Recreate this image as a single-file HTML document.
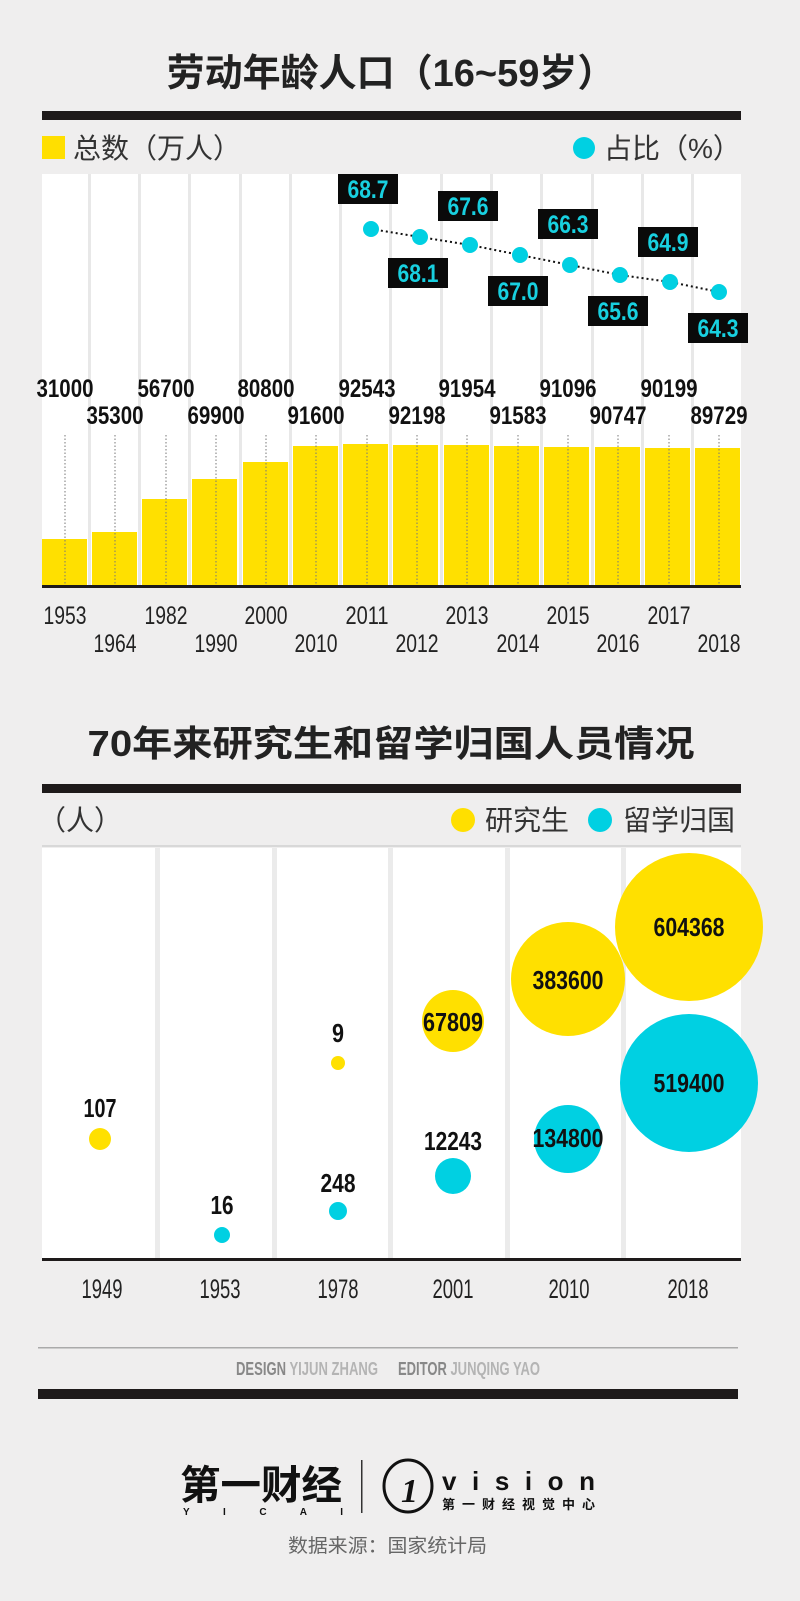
<!DOCTYPE html>
<html><head><meta charset="utf-8"><style>
html,body{margin:0;padding:0;background:#efeeee;}
svg{display:block}
.cn{font-family:"Liberation Sans","Noto Sans CJK SC",sans-serif}
.n{font-family:"Liberation Sans",sans-serif;font-weight:bold;fill:#111}
.y{font-family:"Liberation Sans",sans-serif;fill:#222}
</style></head><body>
<svg width="800" height="1601" viewBox="0 0 800 1601" xmlns="http://www.w3.org/2000/svg">
<rect width="800" height="1601" fill="#efeeee"/>
<!-- Section 1 -->
<text x="391" y="86" class="cn" font-size="38" font-weight="bold" fill="#222" text-anchor="middle">劳动年龄人口（16~59岁）</text>
<rect x="42" y="111" width="699" height="9" fill="#1e1a1a"/>
<rect x="42" y="136" width="23" height="23" fill="#ffdf00"/>
<text x="73" y="158" class="cn" font-size="28" fill="#333">总数（万人）</text>
<circle cx="584" cy="148" r="11" fill="#00d0e2"/>
<text x="604" y="158" class="cn" font-size="28" fill="#333">占比（%）</text>
<rect x="42" y="174" width="699" height="412" fill="#fff"/>
<g fill="#e8e8e8">
<rect x="88" y="174" width="3" height="412"/><rect x="138" y="174" width="3" height="412"/><rect x="188" y="174" width="3" height="412"/><rect x="239" y="174" width="3" height="412"/><rect x="289" y="174" width="3" height="412"/><rect x="339" y="174" width="3" height="412"/><rect x="389" y="174" width="3" height="412"/><rect x="440" y="174" width="3" height="412"/><rect x="490" y="174" width="3" height="412"/><rect x="540" y="174" width="3" height="412"/><rect x="591" y="174" width="3" height="412"/><rect x="641" y="174" width="3" height="412"/><rect x="691" y="174" width="3" height="412"/>
</g>
<g fill="#ffe000">
<rect x="42" y="539" width="45" height="47"/>
<rect x="92" y="532" width="45" height="54"/>
<rect x="142" y="499" width="45" height="87"/>
<rect x="192" y="479" width="45" height="107"/>
<rect x="243" y="462" width="45" height="124"/>
<rect x="293" y="446" width="45" height="140"/>
<rect x="343" y="444" width="45" height="142"/>
<rect x="393" y="445" width="45" height="141"/>
<rect x="444" y="445" width="45" height="141"/>
<rect x="494" y="446" width="45" height="140"/>
<rect x="544" y="447" width="45" height="139"/>
<rect x="595" y="447" width="45" height="139"/>
<rect x="645" y="448" width="45" height="138"/>
<rect x="695" y="448" width="45" height="138"/>
</g>
<g stroke="#777" stroke-width="1" stroke-dasharray="1.5,2">
<line x1="65" y1="435" x2="65" y2="585"/><line x1="115" y1="435" x2="115" y2="585"/><line x1="166" y1="435" x2="166" y2="585"/><line x1="216" y1="435" x2="216" y2="585"/><line x1="266" y1="435" x2="266" y2="585"/><line x1="316" y1="435" x2="316" y2="585"/><line x1="367" y1="435" x2="367" y2="585"/><line x1="417" y1="435" x2="417" y2="585"/><line x1="467" y1="435" x2="467" y2="585"/><line x1="518" y1="435" x2="518" y2="585"/><line x1="568" y1="435" x2="568" y2="585"/><line x1="618" y1="435" x2="618" y2="585"/><line x1="669" y1="435" x2="669" y2="585"/><line x1="719" y1="435" x2="719" y2="585"/>
</g>
<rect x="42" y="585" width="699" height="3" fill="#1e1a1a"/>
<g class="n" font-size="25" text-anchor="middle">
<text x="65" y="397" textLength="57" lengthAdjust="spacingAndGlyphs">31000</text>
<text x="115" y="424" textLength="57" lengthAdjust="spacingAndGlyphs">35300</text>
<text x="166" y="397" textLength="57" lengthAdjust="spacingAndGlyphs">56700</text>
<text x="216" y="424" textLength="57" lengthAdjust="spacingAndGlyphs">69900</text>
<text x="266" y="397" textLength="57" lengthAdjust="spacingAndGlyphs">80800</text>
<text x="316" y="424" textLength="57" lengthAdjust="spacingAndGlyphs">91600</text>
<text x="367" y="397" textLength="57" lengthAdjust="spacingAndGlyphs">92543</text>
<text x="417" y="424" textLength="57" lengthAdjust="spacingAndGlyphs">92198</text>
<text x="467" y="397" textLength="57" lengthAdjust="spacingAndGlyphs">91954</text>
<text x="518" y="424" textLength="57" lengthAdjust="spacingAndGlyphs">91583</text>
<text x="568" y="397" textLength="57" lengthAdjust="spacingAndGlyphs">91096</text>
<text x="618" y="424" textLength="57" lengthAdjust="spacingAndGlyphs">90747</text>
<text x="669" y="397" textLength="57" lengthAdjust="spacingAndGlyphs">90199</text>
<text x="719" y="424" textLength="57" lengthAdjust="spacingAndGlyphs">89729</text>
</g>
<g class="y" font-size="25" text-anchor="middle">
<text x="65" y="624" textLength="43" lengthAdjust="spacingAndGlyphs">1953</text>
<text x="115" y="652" textLength="43" lengthAdjust="spacingAndGlyphs">1964</text>
<text x="166" y="624" textLength="43" lengthAdjust="spacingAndGlyphs">1982</text>
<text x="216" y="652" textLength="43" lengthAdjust="spacingAndGlyphs">1990</text>
<text x="266" y="624" textLength="43" lengthAdjust="spacingAndGlyphs">2000</text>
<text x="316" y="652" textLength="43" lengthAdjust="spacingAndGlyphs">2010</text>
<text x="367" y="624" textLength="43" lengthAdjust="spacingAndGlyphs">2011</text>
<text x="417" y="652" textLength="43" lengthAdjust="spacingAndGlyphs">2012</text>
<text x="467" y="624" textLength="43" lengthAdjust="spacingAndGlyphs">2013</text>
<text x="518" y="652" textLength="43" lengthAdjust="spacingAndGlyphs">2014</text>
<text x="568" y="624" textLength="43" lengthAdjust="spacingAndGlyphs">2015</text>
<text x="618" y="652" textLength="43" lengthAdjust="spacingAndGlyphs">2016</text>
<text x="669" y="624" textLength="43" lengthAdjust="spacingAndGlyphs">2017</text>
<text x="719" y="652" textLength="43" lengthAdjust="spacingAndGlyphs">2018</text>
</g>
<polyline points="371,229 420,237 470,245 520,255 570,265 620,275 670,282 719,292" fill="none" stroke="#111" stroke-width="2" stroke-dasharray="2,3"/>
<g fill="#00d0e2">
<circle cx="371" cy="229" r="8"/><circle cx="420" cy="237" r="8"/><circle cx="470" cy="245" r="8"/><circle cx="520" cy="255" r="8"/><circle cx="570" cy="265" r="8"/><circle cx="620" cy="275" r="8"/><circle cx="670" cy="282" r="8"/><circle cx="719" cy="292" r="8"/>
</g>
<g fill="#0a0a0a">
<rect x="338" y="174" width="60" height="30"/><rect x="388" y="258" width="60" height="30"/><rect x="438" y="191" width="60" height="30"/><rect x="488" y="276" width="60" height="30"/><rect x="538" y="209" width="60" height="30"/><rect x="588" y="296" width="60" height="30"/><rect x="638" y="227" width="60" height="30"/><rect x="688" y="313" width="60" height="30"/>
</g>
<g font-family="Liberation Sans,sans-serif" font-weight="bold" font-size="25" fill="#18d0e0" text-anchor="middle">
<text x="368" y="198" textLength="41" lengthAdjust="spacingAndGlyphs">68.7</text>
<text x="418" y="282" textLength="41" lengthAdjust="spacingAndGlyphs">68.1</text>
<text x="468" y="215" textLength="41" lengthAdjust="spacingAndGlyphs">67.6</text>
<text x="518" y="300" textLength="41" lengthAdjust="spacingAndGlyphs">67.0</text>
<text x="568" y="233" textLength="41" lengthAdjust="spacingAndGlyphs">66.3</text>
<text x="618" y="320" textLength="41" lengthAdjust="spacingAndGlyphs">65.6</text>
<text x="668" y="251" textLength="41" lengthAdjust="spacingAndGlyphs">64.9</text>
<text x="718" y="337" textLength="41" lengthAdjust="spacingAndGlyphs">64.3</text>
</g>
<!-- Section 2 -->
<text x="391" y="756" class="cn" font-size="36" font-weight="bold" fill="#222" text-anchor="middle" textLength="607" lengthAdjust="spacingAndGlyphs">70年来研究生和留学归国人员情况</text>
<rect x="42" y="784" width="699" height="9" fill="#1e1a1a"/>
<text x="38" y="830" class="cn" font-size="28" fill="#333">（人）</text>
<circle cx="463" cy="820" r="12" fill="#ffdf00"/>
<text x="485" y="830" class="cn" font-size="28" fill="#333">研究生</text>
<circle cx="600" cy="820" r="12" fill="#00d0e2"/>
<text x="623" y="830" class="cn" font-size="28" fill="#333">留学归国</text>
<rect x="42" y="845" width="699" height="2" fill="#d8d8d8"/>
<rect x="42" y="848" width="699" height="411" fill="#fff"/>
<g fill="#ebebeb">
<rect x="155" y="848" width="5" height="411"/><rect x="272" y="848" width="5" height="411"/><rect x="388" y="848" width="5" height="411"/><rect x="505" y="848" width="5" height="411"/><rect x="621" y="848" width="5" height="411"/>
</g>
<rect x="42" y="1258" width="699" height="3" fill="#1e1a1a"/>
<circle cx="689" cy="927" r="74" fill="#ffe000"/>
<circle cx="568" cy="979" r="57" fill="#ffe000"/>
<circle cx="453" cy="1021" r="31" fill="#ffe000"/>
<circle cx="338" cy="1063" r="7" fill="#ffe000"/>
<circle cx="100" cy="1139" r="11" fill="#ffe000"/>
<circle cx="689" cy="1083" r="69" fill="#00d0e2"/>
<circle cx="568" cy="1139" r="34" fill="#00d0e2"/>
<circle cx="453" cy="1176" r="18" fill="#00d0e2"/>
<circle cx="338" cy="1211" r="9" fill="#00d0e2"/>
<circle cx="222" cy="1235" r="8" fill="#00d0e2"/>
<g class="n" font-size="26" text-anchor="middle">
<text x="689" y="936" textLength="71" lengthAdjust="spacingAndGlyphs">604368</text>
<text x="568" y="989" textLength="71" lengthAdjust="spacingAndGlyphs">383600</text>
<text x="453" y="1031" textLength="60" lengthAdjust="spacingAndGlyphs">67809</text>
<text x="338" y="1042" textLength="12" lengthAdjust="spacingAndGlyphs">9</text>
<text x="100" y="1117" textLength="33" lengthAdjust="spacingAndGlyphs">107</text>
<text x="689" y="1092" textLength="71" lengthAdjust="spacingAndGlyphs">519400</text>
<text x="568" y="1147" textLength="71" lengthAdjust="spacingAndGlyphs">134800</text>
<text x="453" y="1150" textLength="58" lengthAdjust="spacingAndGlyphs">12243</text>
<text x="338" y="1192" textLength="35" lengthAdjust="spacingAndGlyphs">248</text>
<text x="222" y="1214" textLength="23" lengthAdjust="spacingAndGlyphs">16</text>
</g>
<g class="y" font-size="27" text-anchor="middle">
<text x="102" y="1298" textLength="41" lengthAdjust="spacingAndGlyphs">1949</text>
<text x="220" y="1298" textLength="41" lengthAdjust="spacingAndGlyphs">1953</text>
<text x="338" y="1298" textLength="41" lengthAdjust="spacingAndGlyphs">1978</text>
<text x="453" y="1298" textLength="41" lengthAdjust="spacingAndGlyphs">2001</text>
<text x="569" y="1298" textLength="41" lengthAdjust="spacingAndGlyphs">2010</text>
<text x="688" y="1298" textLength="41" lengthAdjust="spacingAndGlyphs">2018</text>
</g>
<!-- Footer -->
<rect x="38" y="1347" width="700" height="1.5" fill="#aaa"/>
<text x="236" y="1375" font-family="Liberation Sans,sans-serif" font-weight="bold" font-size="18" textLength="142" lengthAdjust="spacingAndGlyphs"><tspan fill="#888">DESIGN </tspan><tspan fill="#b4b4b4">YIJUN ZHANG</tspan></text>
<text x="398" y="1375" font-family="Liberation Sans,sans-serif" font-weight="bold" font-size="18" textLength="142" lengthAdjust="spacingAndGlyphs"><tspan fill="#888">EDITOR </tspan><tspan fill="#b4b4b4">JUNQING YAO</tspan></text>
<rect x="38" y="1389" width="700" height="10" fill="#1e1a1a"/>
<text x="180" y="1499" class="cn" font-size="40" font-weight="bold" fill="#111" textLength="162" lengthAdjust="spacingAndGlyphs">第一财经</text>
<text x="183" y="1515" font-family="Liberation Sans,sans-serif" font-weight="bold" font-size="10" fill="#111" textLength="160" lengthAdjust="spacing">Y I C A I</text>
<rect x="361" y="1460" width="1.5" height="53" fill="#333"/>
<ellipse cx="408" cy="1486" rx="24" ry="26" fill="none" stroke="#111" stroke-width="3"/>
<text x="401" y="1502" font-family="Liberation Serif,serif" font-style="italic" font-weight="bold" font-size="34" fill="#111">1</text>
<text x="442" y="1490" font-family="Liberation Sans,sans-serif" font-weight="bold" font-size="26" fill="#111" textLength="153" lengthAdjust="spacing">vision</text>
<text x="442" y="1509" class="cn" font-size="13" font-weight="bold" fill="#111" textLength="153" lengthAdjust="spacing">第一财经视觉中心</text>
<text x="288" y="1552" class="cn" font-size="19" fill="#666" textLength="199" lengthAdjust="spacingAndGlyphs">数据来源：国家统计局</text>
</svg>
</body></html>
